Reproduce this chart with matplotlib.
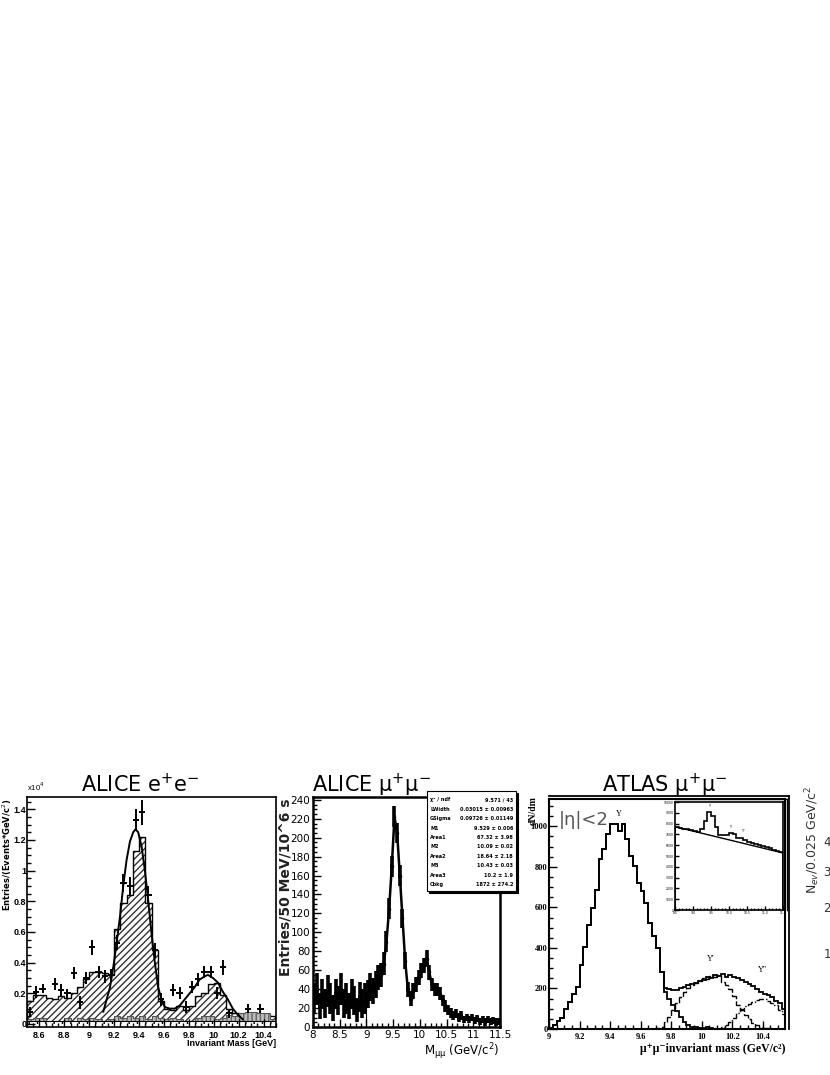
import numpy as np
import matplotlib
matplotlib.use("Agg")
import matplotlib.pyplot as plt
from matplotlib import font_manager
from matplotlib.patches import Rectangle
from matplotlib.ticker import MultipleLocator, FixedLocator, FixedFormatter
from matplotlib.lines import Line2D

# ---------------- data: ALICE e+e- ----------------
ee_bin_lo, ee_bin_w = 8.5, 0.05
ee_hist = [0.15, 0.19, 0.19, 0.17, 0.16, 0.18, 0.17, 0.20, 0.24, 0.29,
           0.34, 0.34, 0.33, 0.32, 0.62, 0.79, 0.84, 1.13, 1.22, 0.79,
           0.48, 0.15, 0.10, 0.09, 0.12, 0.09, 0.12, 0.18, 0.20, 0.26,
           0.27, 0.19, 0.10, 0.07, 0.05, 0.07, 0.07, 0.06, 0.06, 0.05]
ee_bkg = [0.03, 0.04, 0.04, 0.02, 0.02, 0.02, 0.04, 0.02, 0.04, 0.03,
          0.04, 0.03, 0.02, 0.03, 0.05, 0.04, 0.05, 0.04, 0.05, 0.03,
          0.05, 0.04, 0.03, 0.04, 0.03, 0.02, 0.02, 0.04, 0.05, 0.05,
          0.03, 0.04, 0.06, 0.05, 0.07, 0.08, 0.08, 0.07, 0.07, 0.03]
ee_ls = [0.02] * 40
ee_pts_x = [8.525, 8.575, 8.625, 8.725, 8.775, 8.825, 8.875, 8.925, 8.975, 9.025,
            9.075, 9.125, 9.175, 9.225, 9.275, 9.325, 9.375, 9.425, 9.475, 9.525,
            9.575, 9.675, 9.725, 9.775, 9.825, 9.875, 9.925, 9.975, 10.025, 10.075,
            10.125, 10.275, 10.375]
ee_pts_y = [0.08, 0.21, 0.23, 0.26, 0.22, 0.20, 0.33, 0.14, 0.30, 0.50,
            0.34, 0.31, 0.32, 0.53, 0.92, 0.90, 1.33, 1.38, 0.84, 0.48,
            0.16, 0.22, 0.20, 0.11, 0.24, 0.29, 0.34, 0.34, 0.20, 0.37,
            0.07, 0.10, 0.10]
ee_pts_err = [0.03, 0.04, 0.03, 0.04, 0.04, 0.03, 0.04, 0.04, 0.04, 0.05,
              0.04, 0.04, 0.04, 0.05, 0.06, 0.06, 0.07, 0.08, 0.06, 0.05,
              0.04, 0.04, 0.04, 0.04, 0.04, 0.04, 0.04, 0.04, 0.04, 0.05,
              0.03, 0.03, 0.03]
ee_fit_x = [9.113, 9.14, 9.167, 9.193, 9.22, 9.247, 9.273, 9.30, 9.327, 9.353,
            9.372, 9.393, 9.42, 9.447, 9.473, 9.50, 9.527, 9.553, 9.58, 9.607,
            9.647, 9.687, 9.727, 9.767, 9.807, 9.847, 9.887, 9.927, 9.953, 9.993,
            10.033, 10.073, 10.113, 10.153, 10.193, 10.233]
ee_fit_y = [0.08, 0.16, 0.24, 0.37, 0.53, 0.70, 0.90, 1.07, 1.19, 1.25,
            1.27, 1.25, 1.16, 1.00, 0.81, 0.59, 0.40, 0.24, 0.16, 0.11,
            0.10, 0.10, 0.12, 0.16, 0.20, 0.24, 0.29, 0.31, 0.32, 0.30,
            0.27, 0.21, 0.16, 0.10, 0.06, 0.03]

# ---------------- data: ALICE mu+mu- ----------------
mu_bin_lo, mu_bin_w = 8.0, 0.05
mu_vals = [30, 40, 22, 35, 25, 38, 30, 20, 35, 28, 40, 25, 30, 22, 35, 28, 18, 32, 25, 30,
           35, 42, 38, 45, 52, 55,
           67, 90, 125, 170, 222, 205, 160, 115, 70, 40, 30, 38, 45, 52,
           60, 65, 72, 58, 45, 40, 40, 35, 28, 22, 18, 15, 12, 14, 10, 12,
           8, 10, 8, 10, 7, 9, 6, 8, 5, 8, 6, 7, 5, 6]
mu_errs = [16, 17, 14, 16, 15, 17, 16, 14, 16, 15, 17, 15, 16, 14, 16, 15, 13, 16, 15, 16,
           15, 15, 14, 14, 13, 13,
           12, 11, 11, 11, 11, 11, 11, 10, 9, 8, 8, 8, 8, 8,
           8, 8, 9, 8, 7, 7, 7, 7, 6, 6, 5, 5, 5, 5, 5, 5,
           4, 4, 4, 4, 4, 4, 4, 4, 4, 4, 4, 4, 4, 4]
mu_bkg_x = [8.0, 9.0]
mu_bkg_level = 28
stat_names = ["χ² / ndf", "LWidth", "GSigma", "M1", "Area1", "M2", "Area2", "M3", "Area3", "Cbkg"]
stat_values = ["9.571 / 43", "0.03015 ± 0.00963", "0.09726 ± 0.01149", "9.529 ± 0.006",
               "67.32 ± 3.98", "10.09 ± 0.02", "18.64 ± 2.18", "10.43 ± 0.03",
               "10.2 ± 1.9", "1872 ± 274.2"]

# ---------------- data: ATLAS mu+mu- ----------------
at_bin_lo, at_bin_w = 9.0, 0.025
at_1s = [4, 20, 38, 55, 100, 132, 173, 208, 317, 406,
         513, 597, 688, 837, 886, 960, 1010, 1010, 975, 1010,
         936, 856, 803, 721, 680, 622, 523, 457, 400, 280,
         185, 150, 120, 90, 60, 35, 20, 12, 8, 5,
         4, 8, 4, 2, 1, 1, 0, 1, 0, 0,
         0, 0, 0, 0, 0, 0, 0, 0, 0, 0, 0, 0]
at_2s = [0] * 28 + [3, 12,
         35, 60, 95, 130, 160, 185, 200, 215, 225, 235,
         250, 245, 260, 255, 265, 230, 215, 195, 165, 120,
         95, 70, 50, 30, 20, 10, 6, 3, 2, 1, 1, 1]
at_3s = [0] * 40 + [0, 0, 0, 0, 2, 8, 20, 35, 55, 80,
         100, 115, 125, 135, 145, 150, 150, 140, 130, 120, 95, 75]
at_sum = at_1s[:30] + [200, 197, 193, 190, 200, 205, 215, 220, 225, 235,
                      240, 255, 250, 265, 260, 270, 255, 265, 255, 250,
                      240, 230, 220, 210, 195, 185, 175, 170, 160, 140,
                      130, 100]
inset_bin_lo, inset_bin_w = 8.5, 0.1
inset_vals = [7700, 7620, 7540, 7470, 7390, 7320, 7240, 7500, 8200, 9050,
              8700, 7700, 6980, 6900, 6950, 7150, 7050, 6650, 6700, 6450,
              6300, 6200, 6150, 6000, 5950, 5850, 5700, 5600, 5450, 5350]
inset_bkg_x = [8.5, 11.5]
inset_bkg_y = [7710, 5280]


def pick(names):
    out = []
    for n in names:
        try:
            font_manager.findfont(font_manager.FontProperties(family=n), fallback_to_default=False)
            out.append(n)
        except Exception:
            pass
    return out or ["DejaVu Sans"]


narrow = pick(["Liberation Sans Narrow", "Liberation Sans"]) + ["DejaVu Sans"]
serif = ["Liberation Serif", "DejaVu Serif"]

# ---------------- figure ----------------
W, H = 830, 1075
fig = plt.figure(figsize=(8.3, 10.75), dpi=100)


def ax_px(x0, y0, x1, y1):
    return fig.add_axes([x0 / W, 1 - y1 / H, (x1 - x0) / W, (y1 - y0) / H])


def root_style(ax, lw=1.2):
    for s in ax.spines.values():
        s.set_linewidth(lw)
    ax.tick_params(which="both", direction="in", top=False, right=False, width=1.0)
    ax.tick_params(which="major", length=6)
    ax.tick_params(which="minor", length=3)


# ===== Panel 1: ALICE e+e- =====
ax1 = ax_px(27, 797, 276, 1027)
root_style(ax1, 1.2)
edges = ee_bin_lo + ee_bin_w * np.arange(len(ee_hist) + 1)
ax1.stairs(ee_hist, edges, fill=True, facecolor="white", edgecolor="#333333", hatch="/////", lw=0)
ax1.stairs(ee_hist, edges, color="black", lw=1.0)
ax1.stairs(ee_bkg, edges, fill=True, facecolor="#bbbbbb", edgecolor="#666666", hatch="||||", lw=0)
ax1.stairs(ee_bkg, edges, color="#555555", lw=0.8)
ax1.stairs(ee_ls, edges, fill=True, facecolor="white", edgecolor="black", hatch="++", lw=0)
ax1.stairs(ee_ls, edges, color="black", lw=0.8)
ax1.plot(ee_fit_x, ee_fit_y, color="black", lw=1.4)
ax1.errorbar(ee_pts_x, ee_pts_y, yerr=ee_pts_err, xerr=ee_bin_w / 2, fmt="none",
             ecolor="black", elinewidth=1.4, capsize=0)
ax1.set_xlim(8.5, 10.5)
ax1.set_ylim(-0.02, 1.48)
ax1.xaxis.set_major_locator(FixedLocator([8.6, 8.8, 9.0, 9.2, 9.4, 9.6, 9.8, 10.0, 10.2, 10.4]))
ax1.xaxis.set_major_formatter(FixedFormatter(["8.6", "8.8", "9", "9.2", "9.4", "9.6", "9.8", "10", "10.2", "10.4"]))
ax1.xaxis.set_minor_locator(MultipleLocator(0.05))
ax1.yaxis.set_major_locator(FixedLocator([0, 0.2, 0.4, 0.6, 0.8, 1.0, 1.2, 1.4]))
ax1.yaxis.set_major_formatter(FixedFormatter(["0", "0.2", "0.4", "0.6", "0.8", "1", "1.2", "1.4"]))
ax1.yaxis.set_minor_locator(MultipleLocator(0.05))
for lab in ax1.get_xticklabels() + ax1.get_yticklabels():
    lab.set_fontfamily(narrow)
    lab.set_fontsize(6.5)
    lab.set_fontweight("bold")
ax1.tick_params(axis="x", pad=3)
ax1.tick_params(axis="y", pad=0.5)
fig.text(276 / W, 1 - 1044 / H, "Invariant Mass [GeV]", ha="right", va="center",
         fontsize=6.5, fontweight="bold", family=narrow)
fig.text(7 / W, 1 - 798 / H, "Entries/(Events*GeV/c$^2$)", rotation=90, ha="center", va="top",
         fontsize=6, fontweight="bold")
fig.text(27 / W, 1 - 793 / H, "x10$^{4}$", ha="left", va="bottom", fontsize=5.5, family=narrow)
fig.text(140 / W, 1 - 784 / H, "ALICE e$^{+}$e$^{-}$", ha="center", va="center", fontsize=15)

# ===== Panel 2: ALICE mu+mu- =====
ax2 = ax_px(313, 797, 500, 1027)
root_style(ax2, 1.8)
mu_centers = mu_bin_lo + mu_bin_w * (np.arange(len(mu_vals)) + 0.5)
ax2.plot(mu_bkg_x, [mu_bkg_level, mu_bkg_level], color="black", lw=0.8)
ax2.vlines(mu_bkg_x[1], 0, mu_bkg_level, color="black", lw=0.8)
ax2.errorbar(mu_centers, mu_vals, yerr=mu_errs, xerr=mu_bin_w / 2, fmt="none",
             ecolor="black", elinewidth=2.6, capsize=0)
ax2.plot(mu_centers, mu_vals, color="black", lw=1.8, marker="o", ms=1.5)
ax2.set_xlim(8.0, 11.5)
ax2.set_ylim(0, 243)
ax2.xaxis.set_major_locator(FixedLocator([8, 8.5, 9, 9.5, 10, 10.5, 11, 11.5]))
ax2.xaxis.set_major_formatter(FixedFormatter(["8", "8.5", "9", "9.5", "10", "10.5", "11", "11.5"]))
ax2.xaxis.set_minor_locator(MultipleLocator(0.1))
ax2.yaxis.set_major_locator(MultipleLocator(20))
ax2.yaxis.set_minor_locator(MultipleLocator(5))
ax2.tick_params(labelsize=7.5, pad=2)
fig.text(500 / W, 1 - 1052 / H, "M$_{\\mathrm{\\mu\\mu}}$ (GeV/c$^{2}$)", ha="right", va="center", fontsize=8.5)
fig.text(285 / W, 1 - 798 / H, "Entries/50 MeV/10^6 s", rotation=90, ha="center", va="top",
         fontsize=10, fontweight="bold", color="#222222")
fig.text(372 / W, 1 - 785 / H, "ALICE μ$^{+}$μ$^{-}$", ha="center", va="center", fontsize=15)
# stats box
fig.patches.append(Rectangle((429 / W, 1 - 893 / H), 89 / W, 100 / H, transform=fig.transFigure,
                             facecolor="black", edgecolor="black", lw=0.8, zorder=5))
fig.patches.append(Rectangle((427 / W, 1 - 891 / H), 89 / W, 100 / H, transform=fig.transFigure,
                             facecolor="white", edgecolor="black", lw=0.8, zorder=6))
for i, (nm, vl) in enumerate(zip(stat_names, stat_values)):
    yy = 1 - (800 + i * 9.4) / H
    fig.text(430 / W, yy, nm, ha="left", va="center", fontsize=3.6, fontweight="bold", zorder=7)
    fig.text(513 / W, yy, vl, ha="right", va="center", fontsize=3.6, fontweight="bold", zorder=7)

# ===== Panel 3: ATLAS mu+mu- =====
ax3 = ax_px(549, 799, 785, 1029)
root_style(ax3, 1.5)
aedges = at_bin_lo + at_bin_w * np.arange(len(at_1s) + 1)
ax3.stairs(at_1s, aedges, color="black", lw=1.3)
ax3.stairs(at_2s, aedges, color="black", lw=1.0, ls=(0, (6, 1.5)))
ax3.stairs(at_3s, aedges, color="black", lw=1.0, ls=(0, (6, 1.5, 1, 1.5)))
ax3.stairs(at_sum, aedges, color="black", lw=1.3)
ax3.set_xlim(9.0, 10.545)
ax3.set_ylim(0, 1135)
ax3.xaxis.set_major_locator(FixedLocator([9.0, 9.2, 9.4, 9.6, 9.8, 10.0, 10.2, 10.4]))
ax3.xaxis.set_major_formatter(FixedFormatter(["9", "9.2", "9.4", "9.6", "9.8", "10", "10.2", "10.4"]))
ax3.xaxis.set_minor_locator(MultipleLocator(0.05))
ax3.yaxis.set_major_locator(MultipleLocator(200))
ax3.yaxis.set_minor_locator(MultipleLocator(50))
for lab in ax3.get_xticklabels() + ax3.get_yticklabels():
    lab.set_fontfamily(serif)
    lab.set_fontsize(6)
    lab.set_fontweight("bold")
ax3.tick_params(axis="x", pad=3)
ax3.tick_params(axis="y", pad=1)
# double frame top/right
fig.add_artist(Line2D([549 / W, 789 / W], [1 - 796 / H, 1 - 796 / H], color="black", lw=1.3))
fig.add_artist(Line2D([789 / W, 789 / W], [1 - 796 / H, 1 - 1029 / H], color="black", lw=1.3))
ax3.text(0.04, 0.91, "|η|<2", transform=ax3.transAxes, fontsize=13, color="#555555",
         ha="left", va="center")
ax3.text(9.46, 1060, "Υ", ha="center", va="center", fontsize=6, family=serif)
ax3.text(10.06, 345, "Υ'", ha="center", va="center", fontsize=6, family=serif)
ax3.text(10.4, 290, "Υ''", ha="center", va="center", fontsize=6, family=serif)
fig.text(785 / W, 1 - 1049 / H, "μ⁺μ⁻invariant mass (GeV/c²)", ha="right", va="center",
         fontsize=8.5, fontweight="bold", family=serif)
fig.text(533 / W, 1 - 796 / H, "dN/dm", rotation=90, ha="center", va="top", fontsize=7,
         fontweight="bold", family=serif)
fig.text(665 / W, 1 - 785 / H, "ATLAS μ$^{+}$μ$^{-}$", ha="center", va="center", fontsize=15)

# inset
axi = ax_px(675, 802, 783, 910)
root_style(axi, 1.2)
iedges = inset_bin_lo + inset_bin_w * np.arange(len(inset_vals) + 1)
axi.stairs(inset_vals, iedges, color="black", lw=1.2)
axi.plot(inset_bkg_x, inset_bkg_y, color="black", lw=1.0)
axi.set_xlim(8.5, 11.5)
axi.set_ylim(0, 10000)
axi.xaxis.set_major_locator(MultipleLocator(0.5))
axi.xaxis.set_minor_locator(MultipleLocator(0.1))
axi.yaxis.set_major_locator(MultipleLocator(1000))
axi.tick_params(which="major", length=3, labelsize=2.2, pad=1)
axi.tick_params(which="minor", length=1.5)
fig.add_artist(Line2D([675 / W, 787 / W], [1 - 799 / H, 1 - 799 / H], color="black", lw=1.0))
fig.add_artist(Line2D([787 / W, 787 / W], [1 - 799 / H, 1 - 910 / H], color="black", lw=1.0))
axi.text(9.45, 9600, "Υ", ha="center", va="center", fontsize=2.5)
axi.text(10.05, 7700, "Υ'", ha="center", va="center", fontsize=2.5)
axi.text(10.4, 7300, "Υ''", ha="center", va="center", fontsize=2.5)

# ===== Panel 4 (cut off at right edge) =====
fig.text(813 / W, 1 - 786 / H, "N$_{ev}$/0.025 GeV/c$^{2}$", rotation=90, ha="center", va="top",
         fontsize=9, color="#333333")
for lab, yy in zip(["4", "3", "2", "1"], [842, 873, 908, 955]):
    fig.text(827 / W, 1 - yy / H, lab, ha="center", va="center", fontsize=8.5, color="#333333")

fig.savefig("out.png", dpi=100)
